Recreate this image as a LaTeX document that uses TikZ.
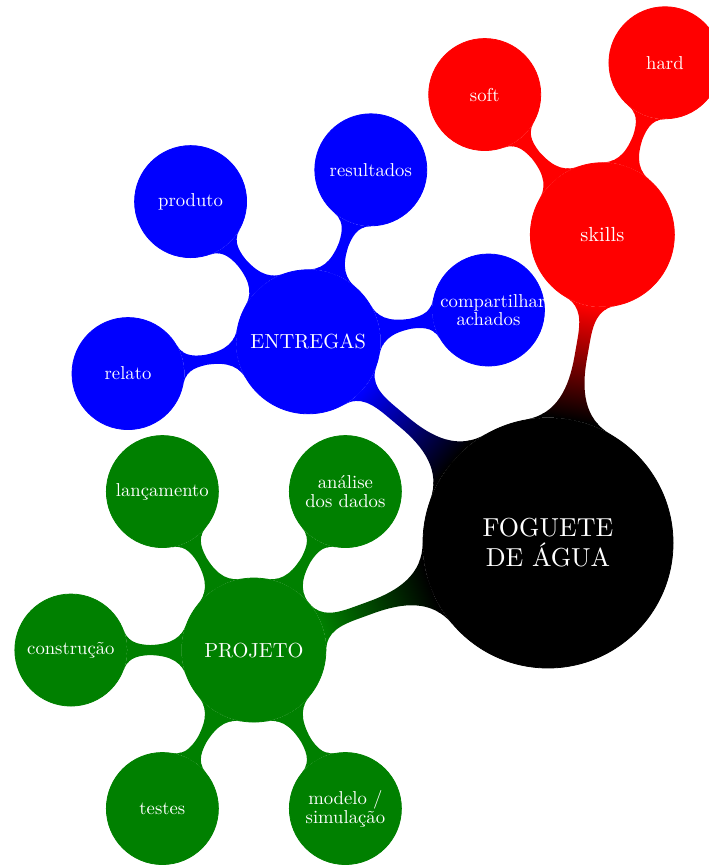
\documentclass[tikz,border=0pt]{standalone}
\usepackage{fontspec}
\setmainfont{lmroman10-regular.otf}
\usetikzlibrary{mindmap,backgrounds,calc}
\definecolor{mmgreen}{rgb}{0,0.5,0}
\begin{document}
\begin{tikzpicture}[x=0.75pt,y=0.75pt,
  conc/.style={circle,inner sep=0pt,align=center,text=white,line width=0.6pt},
  rootc/.style={conc,fill=black,draw=black,minimum size=187.5pt,text width=150pt,font=\fontsize{19.5}{22.5}\selectfont},
  lvlone/.style={conc,fill=#1,draw=#1,minimum size=108pt,text width=90pt,font=\fontsize{15.3}{18}\selectfont},
  lvltwo/.style={conc,fill=#1,draw=#1,minimum size=84pt,text width=72pt,font=\fontsize{14}{14}\selectfont},
  samebar/.style={line width=15pt,circle connection bar switch color=from (#1) to (#1)},
  swbar/.style={line width=15pt,circle connection bar switch color=from (black) to (#1)}
]
\useasboundingbox (0,0) rectangle (709,866);
\coordinate (c) at (548,323);
\node[rootc] (root) at (c) {FOGUETE\\DE ÁGUA};
\node[lvlone=red] (skills) at ($(root)+(80:313)$) {skills};
\node[lvlone=blue] (entregas) at ($(root)+(140:313)$) {ENTREGAS};
\node[lvlone=mmgreen] (projeto) at ($(root)+(200:313)$) {PROJETO};
\node[lvltwo=red] (soft) at ($(skills)+(130:183)$) {soft};
\node[lvltwo=red] (hard) at ($(skills)+(70:183)$) {hard};
\node[lvltwo=blue] (relato) at ($(entregas)+(190:183)$) {relato};
\node[lvltwo=blue] (produto) at ($(entregas)+(130:183)$) {produto};
\node[lvltwo=blue] (resultados) at ($(entregas)+(70:183)$) {resultados};
\node[lvltwo=blue] (compartilhar) at ($(entregas)+(10:183)$) {compartilhar\\achados};
\node[lvltwo=mmgreen] (lancamento) at ($(projeto)+(120:183)$) {lançamento};
\node[lvltwo=mmgreen] (analise) at ($(projeto)+(60:183)$) {análise\\dos dados};
\node[lvltwo=mmgreen] (construcao) at ($(projeto)+(180:183)$) {construção};
\node[lvltwo=mmgreen] (testes) at ($(projeto)+(240:183)$) {testes};
\node[lvltwo=mmgreen] (modelo) at ($(projeto)+(300:183)$) {modelo /\\simulação};
\begin{pgfonlayer}{background}
\path (root) to[swbar=red] (skills);
\path (root) to[swbar=blue] (entregas);
\path (root) to[swbar=mmgreen] (projeto);
\path (skills) to[samebar=red] (soft);
\path (skills) to[samebar=red] (hard);
\path (entregas) to[samebar=blue] (relato);
\path (entregas) to[samebar=blue] (produto);
\path (entregas) to[samebar=blue] (resultados);
\path (entregas) to[samebar=blue] (compartilhar);
\path (projeto) to[samebar=mmgreen] (lancamento);
\path (projeto) to[samebar=mmgreen] (analise);
\path (projeto) to[samebar=mmgreen] (construcao);
\path (projeto) to[samebar=mmgreen] (testes);
\path (projeto) to[samebar=mmgreen] (modelo);
\end{pgfonlayer}
\end{tikzpicture}
\end{document}
